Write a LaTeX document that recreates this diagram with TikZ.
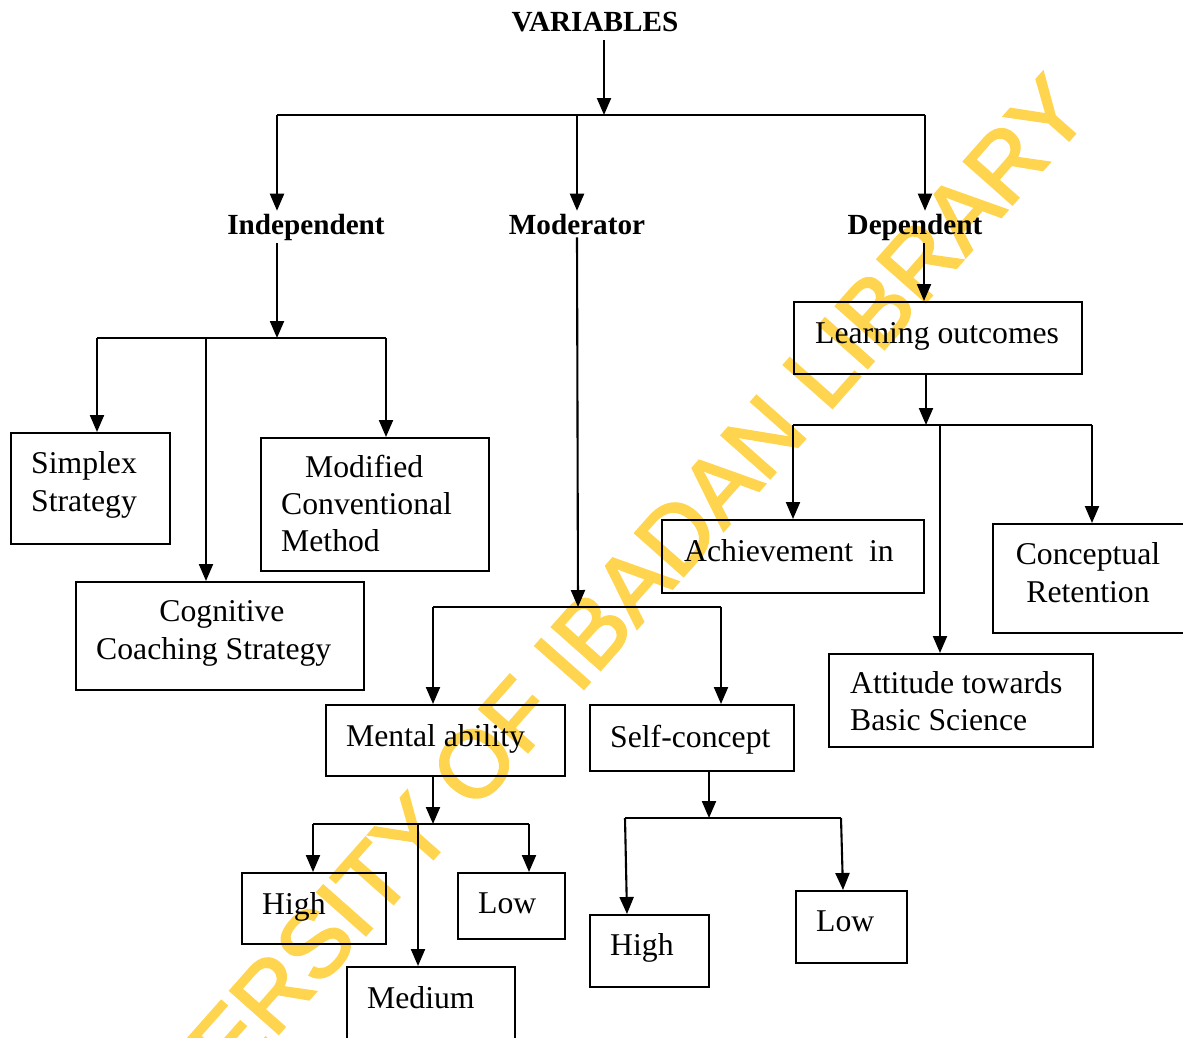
\documentclass[tikz,border=0pt]{standalone}
\usepackage{fontspec}
\setmainfont{Liberation Serif}
\newfontfamily\wmfont[FakeBold=2.5]{Liberation Sans}
\usetikzlibrary{arrows.meta}
\definecolor{wmyellow}{RGB}{255,213,79}
\begin{document}
\begin{tikzpicture}[x=1pt,y=-1pt,
  box/.style={draw, line width=2pt, inner sep=0pt, anchor=north west},
  lbl/.style={anchor=base west, inner sep=0pt, font=\fontsize{31.7}{38}\selectfont},
  clbl/.style={anchor=base, inner sep=0pt, font=\fontsize{31.7}{38}\selectfont},
  head/.style={anchor=base, inner sep=0pt, outer sep=3pt, font=\fontsize{29.2}{35}\selectfont\bfseries},
  conn/.style={line width=2.1pt},
  arr/.style={line width=2.1pt, -{Triangle[length=17pt,width=14pt]}},
]
\useasboundingbox (0,0) rectangle (1183,1037);
% watermark
\node[rotate=48.5, anchor=base, text=wmyellow, inner sep=0pt,
      font=\wmfont\fontsize{94}{94}\selectfont] (wm) at (588,684) {UNIVERSITY OF IBADAN LIBRARY};

% headings
\node[head] (var) at (595,31) {VARIABLES};
\node[head] (indep) at (306,234) {Independent};
\node[head] (mod) at (577,234) {Moderator};
\node[head] (dep) at (915,234) {Dependent};

% boxes
\node[box, minimum width=159pt, minimum height=111pt] (simplex) at (10,432) {};
\node[box, minimum width=228pt, minimum height=133pt] (modified) at (260,437) {};
\node[box, minimum width=288pt, minimum height=108pt] (cognitive) at (75,581) {};
\node[box, minimum width=239pt, minimum height=71pt] (mental) at (325,704) {};
\node[box, minimum width=204pt, minimum height=66pt] (self) at (589,704) {};
\node[box, minimum width=144pt, minimum height=71pt] (high1) at (241,872) {};
\node[box, minimum width=107pt, minimum height=66pt] (low1) at (457,872) {};
\node[box, minimum width=168pt, minimum height=90pt] (medium) at (346,966) {};
\node[box, minimum width=119pt, minimum height=72pt] (high2) at (589,914) {};
\node[box, minimum width=111pt, minimum height=72pt] (low2) at (795,890) {};
\node[box, minimum width=288pt, minimum height=72pt] (learning) at (793,301) {};
\node[box, minimum width=262pt, minimum height=73pt] (achieve) at (661,519) {};
\node[box, minimum width=210pt, minimum height=109pt] (concept) at (992,523) {};
\node[box, minimum width=264pt, minimum height=93pt] (attitude) at (828,653) {};

% box texts
\node[lbl] (t1) at (31,473) {Simplex};
\node[lbl] (t2) at (31,511) {Strategy};
\node[lbl] (t3) at (305,477) {Modified};
\node[lbl] (t4) at (281,514) {Conventional};
\node[lbl] (t5) at (281,551) {Method};
\node[clbl] (t6) at (222,621) {Cognitive};
\node[lbl] (t7) at (96,659) {Coaching Strategy};
\node[lbl] (t8) at (346,746) {Mental ability};
\node[lbl] (t9) at (610,747) {Self-concept};
\node[lbl] (t10) at (262,914) {High};
\node[lbl] (t11) at (478,913) {Low};
\node[lbl] (t12) at (367,1008) {Medium};
\node[lbl] (t13) at (610,955) {High};
\node[lbl] (t14) at (816,931) {Low};
\node[lbl] (t15) at (815,343) {Learning outcomes};
\node[lbl] (t16) at (684,561) {Achievement\ \ in};
\node[clbl] (t17) at (1088,564) {Conceptual};
\node[clbl] (t18) at (1088,602) {Retention};
\node[lbl] (t19) at (850,693) {Attitude towards};
\node[lbl] (t20) at (850,730) {Basic Science};

% junction coordinates
\coordinate (b0) at (604,115);
\coordinate (bL) at (277,115);
\coordinate (bM) at (577,115);
\coordinate (bR) at (925,115);
\coordinate (i0) at (277,338);
\coordinate (iL) at (97,338);
\coordinate (iM) at (206,338);
\coordinate (iR) at (386,338);
\coordinate (m0) at (578,607);
\coordinate (mL) at (433,607);
\coordinate (mR) at (721,607);
\coordinate (a0) at (433,824);
\coordinate (aL) at (313,824);
\coordinate (aM) at (418,824);
\coordinate (aR) at (529,824);
\coordinate (s0) at (709,818);
\coordinate (sL) at (625,818);
\coordinate (sR) at (841,818);
\coordinate (d1) at (924,301);
\coordinate (l0) at (926,425);
\coordinate (lL) at (793,425);
\coordinate (lM) at (940,425);
\coordinate (lR) at (1092,425);

% connectors
\draw[arr] ([yshift=-6pt]b0 |- var.south) -- (b0);
\draw[conn] (bL) -- (bR);
\draw[arr] (bL) -- (bL |- indep.north);
\draw[arr] (bM) -- (bM |- mod.north);
\draw[arr] (bR) -- (bR |- dep.north);

\draw[arr] (i0 |- indep.south) -- (i0);
\draw[conn] (iL) -- (iR);
\draw[arr] (iL) -- (iL |- simplex.north);
\draw[arr] (iM) -- (iM |- cognitive.north);
\draw[arr] (iR) -- (iR |- modified.north);

\draw[arr] (mod.south) -- (m0);
\draw[conn] (mL) -- (mR);
\draw[arr] (mL) -- (mL |- mental.north);
\draw[arr] (mR) -- (mR |- self.north);

\draw[arr] (a0 |- mental.south) -- (a0);
\draw[conn] (aL) -- (aR);
\draw[arr] (aL) -- (aL |- high1.north);
\draw[arr] (aR) -- (aR |- low1.north);
\draw[arr] (aM) -- (aM |- medium.north);

\draw[arr] (s0 |- self.south) -- (s0);
\draw[conn] (sL) -- (sR);
\draw[arr] (sL) -- ([xshift=2pt]sL |- high2.north);
\draw[arr] (sR) -- ([xshift=2pt]sR |- low2.north);

\draw[arr] (d1 |- dep.south) -- (d1 |- learning.north);
\draw[arr] (l0 |- learning.south) -- (l0);
\draw[conn] (lL) -- (lR);
\draw[arr] (lL) -- (lL |- achieve.north);
\draw[arr] (lM) -- (lM |- attitude.north);
\draw[arr] (lR) -- (lR |- concept.north);
\end{tikzpicture}
\end{document}
